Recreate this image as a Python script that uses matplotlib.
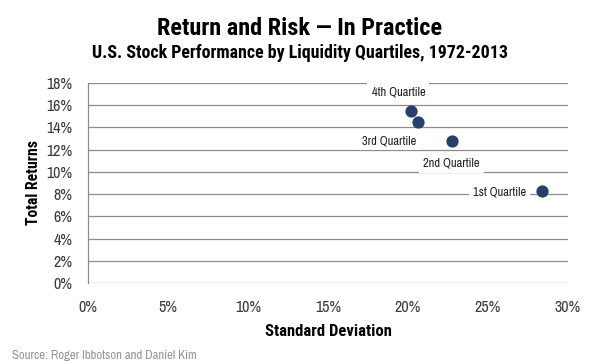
import matplotlib
matplotlib.use('Agg')
import matplotlib.pyplot as plt
from matplotlib.ticker import FuncFormatter

plt.rcParams['font.family'] = ['Archivo Narrow', 'DejaVu Sans']
BOLD = ['Roboto Condensed', 'Barlow Condensed', 'Fira Sans Condensed', 'DejaVu Sans']

# std dev (%), total return (%)
std_dev = [20.2, 20.6, 22.75, 28.4]
returns = [15.5, 14.5, 12.8, 8.3]

labels = ["4th Quartile", "3rd Quartile", "2nd Quartile", "1st Quartile"]
label_x = [19.4, 18.8, 22.7, 25.7]
label_y = [17.2, 12.8, 10.8, 8.2]

navy = '#253f6e'
grid = '#8c8c8c'

fig = plt.figure(figsize=(6, 3.61), dpi=100)
ax = fig.add_axes([0.1467, 0.2161, 0.8, 0.5540])

for y in range(0, 19, 2):
    ax.axhline(y, color=grid, lw=0.9, zorder=1)

ax.scatter(std_dev, returns, s=78, color=navy, zorder=4, linewidths=0)

for t, x, y in zip(labels, label_x, label_y):
    ax.text(x, y, t, ha='center', va='center', fontsize=9, color='#222222',
            zorder=3, bbox=dict(facecolor='white', edgecolor='none', pad=3))

ax.set_xlim(0, 30)
ax.set_ylim(0, 18)
ax.set_xticks(range(0, 31, 5))
ax.set_yticks(range(0, 19, 2))
pct = FuncFormatter(lambda v, p: f"{v:.0f}%")
ax.xaxis.set_major_formatter(pct)
ax.yaxis.set_major_formatter(pct)
ax.tick_params(length=0, labelsize=11.5, colors='#3a3a3a')
ax.tick_params(axis='x', pad=12)
ax.tick_params(axis='y', pad=11)
for s in ['top', 'right', 'bottom']:
    ax.spines[s].set_visible(False)
ax.spines['left'].set_color(grid)
ax.spines['left'].set_linewidth(0.9)

ax.set_xlabel("Standard Deviation", fontsize=12, family=BOLD, fontweight='bold', labelpad=7)
ax.set_ylabel("Total Returns", fontsize=11.3, family=BOLD, fontweight='bold', labelpad=4)

fig.text(0.5, 0.903, "Return and Risk — In Practice", ha='center', va='baseline',
         fontsize=17.5, family=BOLD, fontweight='bold')
fig.text(0.5, 0.839, "U.S. Stock Performance by Liquidity Quartiles, 1972-2013",
         ha='center', va='baseline', fontsize=12.9, family=BOLD, fontweight='bold')
fig.text(0.02, 0.016, "Source: Roger Ibbotson and Daniel Kim", ha='left',
         va='center', fontsize=9.2, color='#959595')

fig.savefig('out.png', dpi=100)
